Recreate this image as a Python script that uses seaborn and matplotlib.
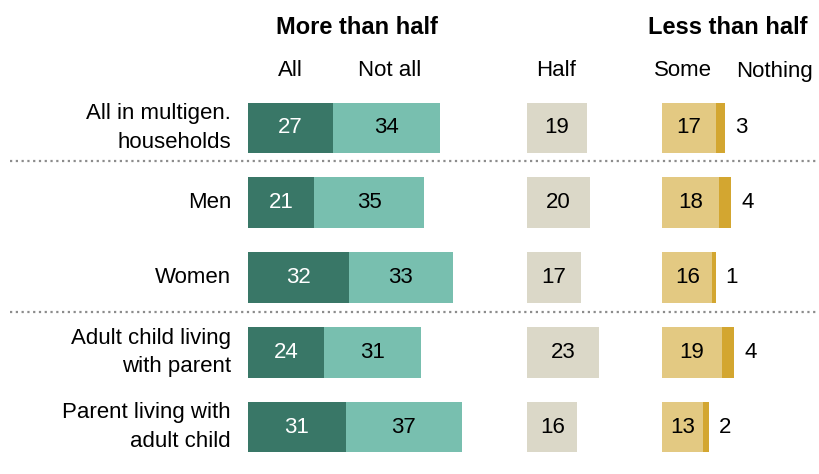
import matplotlib
matplotlib.use("Agg")
import matplotlib.pyplot as plt
from matplotlib.lines import Line2D
import seaborn as sns
import pandas as pd

# Survey shares (%) by group
categories = ["All in multigen.\nhouseholds", "Men", "Women",
              "Adult child living\nwith parent", "Parent living with\nadult child"]
share_all = [27, 21, 32, 24, 31]
share_not_all = [34, 35, 33, 31, 37]
share_half = [19, 20, 17, 23, 16]
share_some = [17, 18, 16, 19, 13]
share_nothing = [3, 4, 1, 4, 2]

group_titles = ["More than half", "Less than half"]
column_labels = ["All", "Not all", "Half", "Some", "Nothing"]

C_ALL = "#397767"
C_NOTALL = "#78bfaf"
C_HALF = "#dbd8c8"
C_SOME = "#e3c982"
C_NOTHING = "#d3a630"

sns.set_theme(style="white")
plt.rcParams["font.family"] = ["Liberation Sans", "DejaVu Sans"]
plt.rcParams["text.color"] = "black"

df = pd.DataFrame({
    "cat": categories,
    "all": share_all,
    "not_all": share_not_all,
    "half": share_half,
    "some": share_some,
    "nothing": share_nothing,
})
df["more_total"] = df["all"] + df["not_all"]
df["less_total"] = df["some"] + df["nothing"]

W, H = 819, 474
fig = plt.figure(figsize=(W / 100, H / 100), dpi=100)

PX_PER_UNIT = 3.15
top_px, bot_px = 90.6, 464.4
FS = 16
FS_HEAD = 17


def make_axes(x0_px, x1_px):
    ax = fig.add_axes([x0_px / W, 1 - bot_px / H, (x1_px - x0_px) / W, (bot_px - top_px) / H])
    ax.set_xlim(0, (x1_px - x0_px) / PX_PER_UNIT)
    return ax


ax_more = make_axes(248, 515)
ax_half = make_axes(527, 655)
ax_less = make_axes(662, 819)

BAR_W = 0.68
common = dict(y="cat", orient="h", errorbar=None, saturation=1, width=BAR_W, linewidth=0)

# Stacked segments: draw the running total first, then the inner segment over it
sns.barplot(data=df, x="more_total", color=C_NOTALL, ax=ax_more, **common)
sns.barplot(data=df, x="all", color=C_ALL, ax=ax_more, **common)
sns.barplot(data=df, x="half", color=C_HALF, ax=ax_half, **common)
sns.barplot(data=df, x="less_total", color=C_NOTHING, ax=ax_less, **common)
sns.barplot(data=df, x="some", color=C_SOME, ax=ax_less, **common)

for ax in (ax_more, ax_half, ax_less):
    ax.set_ylim(len(categories) - 0.5, -0.5)
    ax.set_axis_off()

for i, row in df.iterrows():
    ax_more.text(row["all"] / 2, i, f"{row['all']}", ha="center", va="center",
                 color="white", fontsize=FS)
    ax_more.text(row["all"] + row["not_all"] / 2, i, f"{row['not_all']}", ha="center",
                 va="center", color="black", fontsize=FS)
    ax_half.text(row["half"] / 2, i, f"{row['half']}", ha="center", va="center",
                 color="black", fontsize=FS)
    ax_less.text(row["some"] / 2, i, f"{row['some']}", ha="center", va="center",
                 color="black", fontsize=FS)
    ax_less.text(row["less_total"] + 3.2, i, f"{row['nothing']}", ha="left",
                 va="center", color="black", fontsize=FS)

# Row labels, positioned from the axes' own y scale
fig.canvas.draw()
for i, cat in enumerate(categories):
    y_disp = ax_more.transData.transform((0, i))[1]
    y_fig = fig.transFigure.inverted().transform((0, y_disp))[1]
    fig.text(231 / W, y_fig, cat, ha="right", va="center", fontsize=FS,
             linespacing=1.45, color="black")

# Group headers
fig.text(357 / W, 1 - 27 / H, group_titles[0], ha="center", va="center",
         fontsize=FS_HEAD, fontweight="bold")
fig.text(728 / W, 1 - 27 / H, group_titles[1], ha="center", va="center",
         fontsize=FS_HEAD, fontweight="bold")

# Column headers
col_x = [290, 390, 556, 683, 775]
for lab, xp in zip(column_labels, col_x):
    fig.text(xp / W, 1 - 71 / H, lab, ha="center", va="center", fontsize=FS)

# Dotted separators
for yp in (161, 312):
    fig.add_artist(Line2D([10 / W, 818 / W], [1 - yp / H, 1 - yp / H],
                          transform=fig.transFigure, color="#8c8c8c",
                          linewidth=1.6, linestyle=(0, (1, 1.6))))

fig.savefig("out.png", dpi=100)
